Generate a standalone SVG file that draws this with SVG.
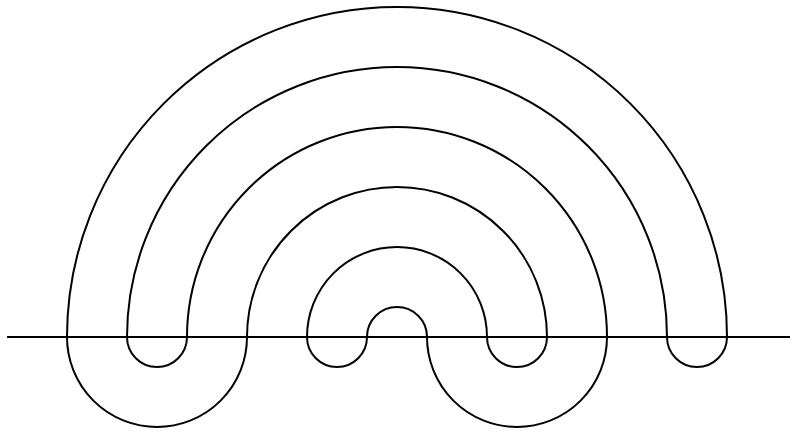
<svg xmlns="http://www.w3.org/2000/svg" width="790" height="431" viewBox="0 0 790 431">
<style>.c{fill:none;stroke:#000;stroke-width:2}</style>
<rect width="790" height="431" fill="#fff"/>
<g id="axis"><line class="c" x1="7" y1="337" x2="790" y2="337"/></g>
<g id="meander">
<path class="c" d="M67 337 A330 330 0 0 1 727 337 A30 30 0 0 1 667 337 A270 270 0 0 0 127 337 A30 30 0 0 0 187 337 A210 210 0 0 1 607 337 A90 90 0 0 1 427 337 A30 30 0 0 0 367 337 A30 30 0 0 1 307 337 A90 90 0 0 1 487 337 A30 30 0 0 0 547 337 A150 150 0 0 0 247 337 A90 90 0 0 1 67 337 Z"/>
</g>
</svg>
